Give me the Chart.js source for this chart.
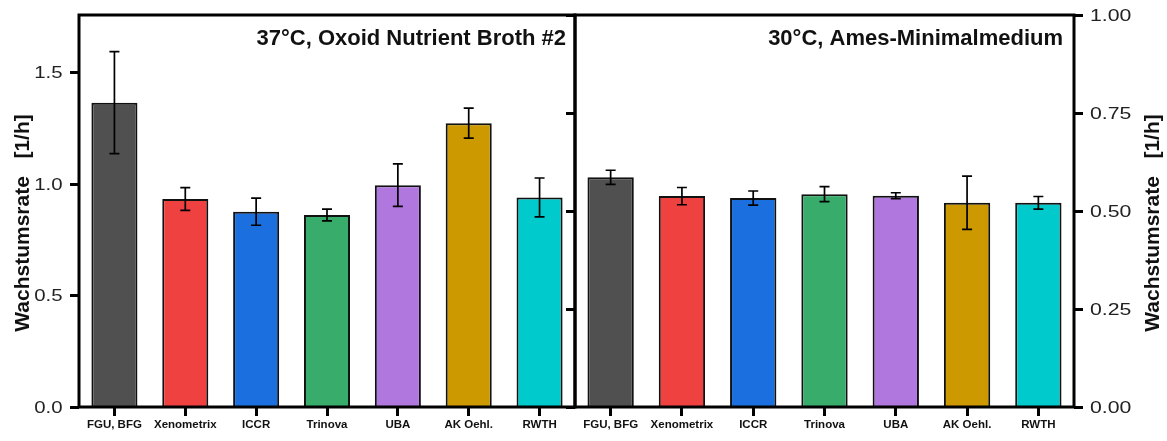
<!DOCTYPE html>
<html>
<head>
<meta charset="utf-8">
<script src="https://cdn.jsdelivr.net/npm/chart.js@4.4.1/dist/chart.umd.min.js"></script>
<style>
  html, body { margin: 0; padding: 0; background: #fff; }
  #wrap { position: relative; width: 1167px; height: 441px; overflow: hidden; }
  #c37 { position: absolute; left: 0; top: 0; }
  #c30 { position: absolute; left: 540px; top: 0; }
</style>
</head>
<body>
<div id="wrap">
  <canvas id="c37" width="590" height="441"></canvas>
  <canvas id="c30" width="627" height="441"></canvas>
</div>
<script>
// Laboratories
const labs = ['FGU, BFG', 'Xenometrix', 'ICCR', 'Trinova', 'UBA', 'AK Oehl.', 'RWTH'];
const barColors = ['#505050', '#F04141', '#1B6FDE', '#38AD6B', '#B078DE', '#CC9900', '#00CACB'];

// Growth rate [1/h] at 37 °C in Oxoid Nutrient Broth #2, with standard deviation
const rate37 = [1.365, 0.933, 0.876, 0.861, 0.995, 1.273, 0.940];
const sd37   = [0.229, 0.051, 0.061, 0.026, 0.095, 0.067, 0.087];

// Growth rate [1/h] at 30 °C in Ames minimal medium, with standard deviation
const rate30 = [0.586, 0.538, 0.533, 0.543, 0.539, 0.521, 0.521];
const sd30   = [0.018, 0.022, 0.018, 0.019, 0.0075, 0.068, 0.016];

// Axis ranges and tick steps
const yMax37 = 1.758, yStep37 = 0.5;
const yMax30 = 1.0,  yStep30 = 0.25;

const FONT = "'Liberation Sans', Arial, Helvetica, sans-serif";
const axisTitle = 'Wachstumsrate   [1/h]';

// Draws the error bars from each dataset's "errors" array
const errorBars = {
  id: 'errorBars',
  afterDatasetsDraw(chart) {
    const ctx = chart.ctx;
    chart.data.datasets.forEach((ds, di) => {
      const meta = chart.getDatasetMeta(di);
      const ys = chart.scales[meta.yAxisID];
      ctx.save();
      ctx.strokeStyle = '#000';
      ctx.lineWidth = 1.7;
      meta.data.forEach((bar, i) => {
        const v = ds.data[i], e = ds.errors[i];
        const x = bar.x;
        const yTop = ys.getPixelForValue(v + e);
        const yBot = ys.getPixelForValue(v - e);
        ctx.beginPath();
        ctx.moveTo(x, yTop); ctx.lineTo(x, yBot);
        ctx.moveTo(x - 5, yTop); ctx.lineTo(x + 5, yTop);
        ctx.moveTo(x - 5, yBot); ctx.lineTo(x + 5, yBot);
        ctx.stroke();
      });
      ctx.restore();
    });
  }
};

// Frame around the plot area, value labels of the y axis (slightly wide
// lettering), panel heading and rotated axis title
const decor = {
  id: 'decor',
  afterDraw(chart, args, opts) {
    const { ctx, chartArea: a } = chart;
    ctx.save();
    ctx.strokeStyle = '#000';
    ctx.lineWidth = 3;
    ctx.strokeRect(a.left, a.top, a.right - a.left, a.bottom - a.top);

    const ys = chart.scales[opts.valueAxis];
    ctx.fillStyle = '#222';
    ctx.font = '17px ' + FONT;
    ctx.textBaseline = 'middle';
    ctx.textAlign = opts.valueAlign;
    ys.ticks.forEach(t => {
      const y = ys.getPixelForValue(t.value);
      ctx.save();
      ctx.translate(opts.valueX, y + 1);
      ctx.scale(opts.stretch, 1);
      ctx.fillText(t.value.toFixed(opts.digits), 0, 0);
      ctx.restore();
    });

    ctx.fillStyle = '#111';
    ctx.font = 'bold 22px ' + FONT;
    ctx.textAlign = 'right';
    ctx.textBaseline = 'alphabetic';
    ctx.fillText(opts.heading, opts.headingX, 45);

    ctx.translate(opts.titleX, 223);
    ctx.rotate(-Math.PI / 2);
    ctx.font = 'bold 21px ' + FONT;
    ctx.textAlign = 'center';
    ctx.textBaseline = 'middle';
    ctx.fillText(axisTitle, 0, 0);
    ctx.restore();
  }
};

function xScale() {
  return {
    type: 'category',
    offset: true,
    grid: { display: true, drawOnChartArea: false, offset: false, drawTicks: true,
            tickLength: 9, tickWidth: 3, tickColor: '#000' },
    border: { display: false },
    ticks: { color: '#111', font: { family: FONT, size: 11.5, weight: 'bold' },
             padding: 2, maxRotation: 0, autoSkip: false },
    afterFit(s) { s.height = 34; }
  };
}

function yScale(pos, max, step, width) {
  return {
    type: 'linear',
    position: pos,
    min: 0,
    max: max,
    grid: { display: true, drawOnChartArea: false, drawTicks: true,
            tickLength: 9, tickWidth: 3, tickColor: '#000' },
    border: { display: false },
    ticks: { stepSize: step, padding: 7, callback: () => '' },
    afterBuildTicks(s) {
      s.ticks = s.ticks.filter(t => Math.abs(t.value / step - Math.round(t.value / step)) < 1e-6);
    },
    afterFit(s) { s.width = width; }
  };
}

function dataset(values, errors) {
  return {
    data: values,
    errors: errors,
    backgroundColor: barColors,
    borderColor: '#111',
    borderWidth: 2,
    categoryPercentage: 1.0,
    barPercentage: 0.65
  };
}

const common = {
  responsive: false,
  animation: false,
  devicePixelRatio: 1,
  plugins: { legend: { display: false }, tooltip: { enabled: false } }
};

// 37 °C panel
new Chart(document.getElementById('c37'), {
  type: 'bar',
  data: { labels: labs, datasets: [dataset(rate37, sd37)] },
  options: {
    ...common,
    layout: { padding: { left: 0, right: 15, top: 15, bottom: 0 } },
    scales: {
      x: xScale(),
      y: yScale('left', yMax37, yStep37, 79)
    },
    plugins: { ...common.plugins,
      decor: { heading: '37°C, Oxoid Nutrient Broth #2', headingX: 566, titleX: 23,
               valueAxis: 'y', valueAlign: 'right', valueX: 62.5, stretch: 1.2, digits: 1 } }
  },
  plugins: [errorBars, decor]
});

// 30 °C panel
new Chart(document.getElementById('c30'), {
  type: 'bar',
  data: { labels: labs, datasets: [{ ...dataset(rate30, sd30), yAxisID: 'y' }] },
  options: {
    ...common,
    layout: { padding: { left: 0, right: 0, top: 15, bottom: 0 } },
    scales: {
      x: xScale(),
      yl: yScale('left', yMax30, yStep30, 35),
      y: yScale('right', yMax30, yStep30, 93)
    },
    plugins: { ...common.plugins,
      decor: { heading: '30°C, Ames-Minimalmedium', headingX: 523, titleX: 613,
               valueAxis: 'y', valueAlign: 'left', valueX: 550, stretch: 1.25, digits: 2 } }
  },
  plugins: [errorBars, decor]
});
</script>
</body>
</html>
